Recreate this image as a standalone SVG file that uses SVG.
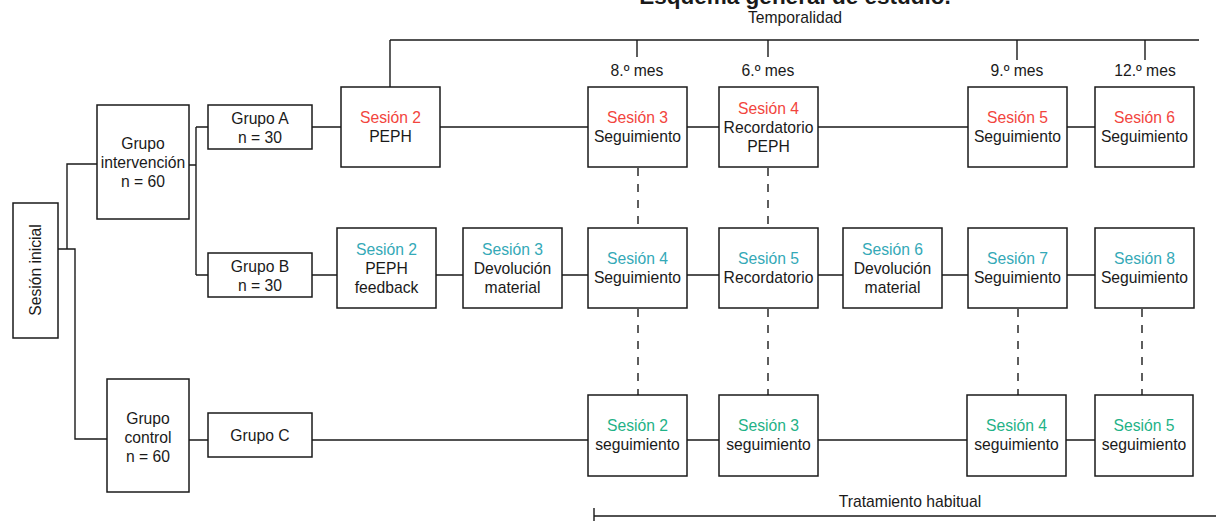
<svg xmlns="http://www.w3.org/2000/svg" width="1216" height="521" viewBox="0 0 1216 521">
<style>
text{font-family:"Liberation Sans",Arial,Helvetica,sans-serif;font-size:15.7px;fill:#1a1a1a;text-anchor:middle}
.box{fill:#fff;stroke:#1a1a1a;stroke-width:1.5}
.ln{fill:none;stroke:#1a1a1a;stroke-width:1.4}
.dash{fill:none;stroke:#1a1a1a;stroke-width:1.4;stroke-dasharray:8 8}
.r{fill:#f2453d}
.t{fill:#34a9b7}
.g{fill:#1fb287}
.title{font-weight:bold;font-size:22.5px}
</style>
<rect width="1216" height="521" fill="#fff"/>
<text class="title" x="795" y="4">Esquema general de estudio.</text>
<g id="timeline">
<text x="795" y="23">Temporalidad</text>
<path class="ln" d="M390,40 H1199 M390,40 V87 M637,40 V57 M768,40 V57 M1017,40 V60 M1145,40 V60"/>
<text x="637" y="76">8.º mes</text>
<text x="768" y="76">6.º mes</text>
<text x="1017" y="76">9.º mes</text>
<text x="1145" y="76">12.º mes</text>
</g>
<g id="connectors">
<path class="ln" d="M58,249 H75 V439 H107 M67,249 V164 H97 M189,165 H196 M196,127 V275 M196,127 H208 M196,275 H208 M189,440 H208"/>
<path class="ln" d="M312,127 H341 M440,127 H588 M687,127 H719 M818,127 H968 M1067,127 H1095"/>
<path class="ln" d="M312,275 H337 M436,275 H463 M562,275 H588 M687,275 H719 M818,275 H843 M942,275 H968 M1067,275 H1095"/>
<path class="ln" d="M312,440 H588 M687,440 H719 M818,440 H967 M1066,440 H1095"/>
<path class="dash" d="M638,168 V228 M768,168 V228 M638,309 V395 M768,309 V395 M1018,309 V395 M1142,309 V395"/>
</g>
<g id="sesion-inicial"><rect class="box" x="13" y="203" width="45" height="135"/><text transform="translate(41,270) rotate(-90)">Sesión inicial</text></g>
<g id="grupo-intervencion"><rect class="box" x="97" y="105" width="92" height="114"/><text x="143" y="148.5">Grupo</text><text x="143" y="167.5">intervención</text><text x="143" y="186.5">n = 60</text></g>
<g id="grupo-control"><rect class="box" x="107" y="379" width="82" height="113"/><text x="148" y="423.5">Grupo</text><text x="148" y="442.5">control</text><text x="148" y="461.5">n = 60</text></g>
<g id="grupo-a"><rect class="box" x="208" y="105" width="104" height="44"/><text x="260" y="123.5">Grupo A</text><text x="260" y="142.5">n = 30</text></g>
<g id="grupo-b"><rect class="box" x="208" y="253" width="104" height="44"/><text x="260" y="271.5">Grupo B</text><text x="260" y="291">n = 30</text></g>
<g id="grupo-c"><rect class="box" x="208" y="413" width="104" height="44"/><text x="260" y="440.5">Grupo C</text></g>

<g id="a-s2"><rect class="box" x="341" y="87" width="99" height="80"/><text class="r" x="390.5" y="122.5">Sesión 2</text><text x="390.5" y="142">PEPH</text></g>
<g id="a-s3"><rect class="box" x="588" y="87" width="99" height="80"/><text class="r" x="637.5" y="122.5">Sesión 3</text><text x="637.5" y="142">Seguimiento</text></g>
<g id="a-s4"><rect class="box" x="719" y="87" width="99" height="80"/><text class="r" x="768.5" y="114">Sesión 4</text><text x="768.5" y="133">Recordatorio</text><text x="768.5" y="152">PEPH</text></g>
<g id="a-s5"><rect class="box" x="968" y="87" width="99" height="80"/><text class="r" x="1017.5" y="122.5">Sesión 5</text><text x="1017.5" y="142">Seguimiento</text></g>
<g id="a-s6"><rect class="box" x="1095" y="87" width="99" height="80"/><text class="r" x="1144.5" y="122.5">Sesión 6</text><text x="1144.5" y="142">Seguimiento</text></g>

<g id="b-s2"><rect class="box" x="337" y="228" width="99" height="80"/><text class="t" x="386.5" y="254.5">Sesión 2</text><text x="386.5" y="273.5">PEPH</text><text x="386.5" y="292.5">feedback</text></g>
<g id="b-s3"><rect class="box" x="463" y="228" width="99" height="80"/><text class="t" x="512.5" y="254.5">Sesión 3</text><text x="512.5" y="273.5">Devolución</text><text x="512.5" y="292.5">material</text></g>
<g id="b-s4"><rect class="box" x="588" y="228" width="99" height="80"/><text class="t" x="637.5" y="264">Sesión 4</text><text x="637.5" y="283">Seguimiento</text></g>
<g id="b-s5"><rect class="box" x="719" y="228" width="99" height="80"/><text class="t" x="768.5" y="264">Sesión 5</text><text x="768.5" y="283">Recordatorio</text></g>
<g id="b-s6"><rect class="box" x="843" y="228" width="99" height="80"/><text class="t" x="892.5" y="254.5">Sesión 6</text><text x="892.5" y="273.5">Devolución</text><text x="892.5" y="292.5">material</text></g>
<g id="b-s7"><rect class="box" x="968" y="228" width="99" height="80"/><text class="t" x="1017.5" y="264">Sesión 7</text><text x="1017.5" y="283">Seguimiento</text></g>
<g id="b-s8"><rect class="box" x="1095" y="228" width="99" height="80"/><text class="t" x="1144.5" y="264">Sesión 8</text><text x="1144.5" y="283">Seguimiento</text></g>

<g id="c-s2"><rect class="box" x="588" y="395" width="99" height="81"/><text class="g" x="637.5" y="431">Sesión 2</text><text x="637.5" y="450">seguimiento</text></g>
<g id="c-s3"><rect class="box" x="719" y="395" width="99" height="81"/><text class="g" x="768.5" y="431">Sesión 3</text><text x="768.5" y="450">seguimiento</text></g>
<g id="c-s4"><rect class="box" x="967" y="395" width="99" height="81"/><text class="g" x="1016.5" y="431">Sesión 4</text><text x="1016.5" y="450">seguimiento</text></g>
<g id="c-s5"><rect class="box" x="1095" y="395" width="98" height="81"/><text class="g" x="1144" y="431">Sesión 5</text><text x="1144" y="450">seguimiento</text></g>

<g id="tratamiento">
<text x="910" y="507">Tratamiento habitual</text>
<path class="ln" d="M594,508 V521 M594,516 H1216"/>
</g>
</svg>
